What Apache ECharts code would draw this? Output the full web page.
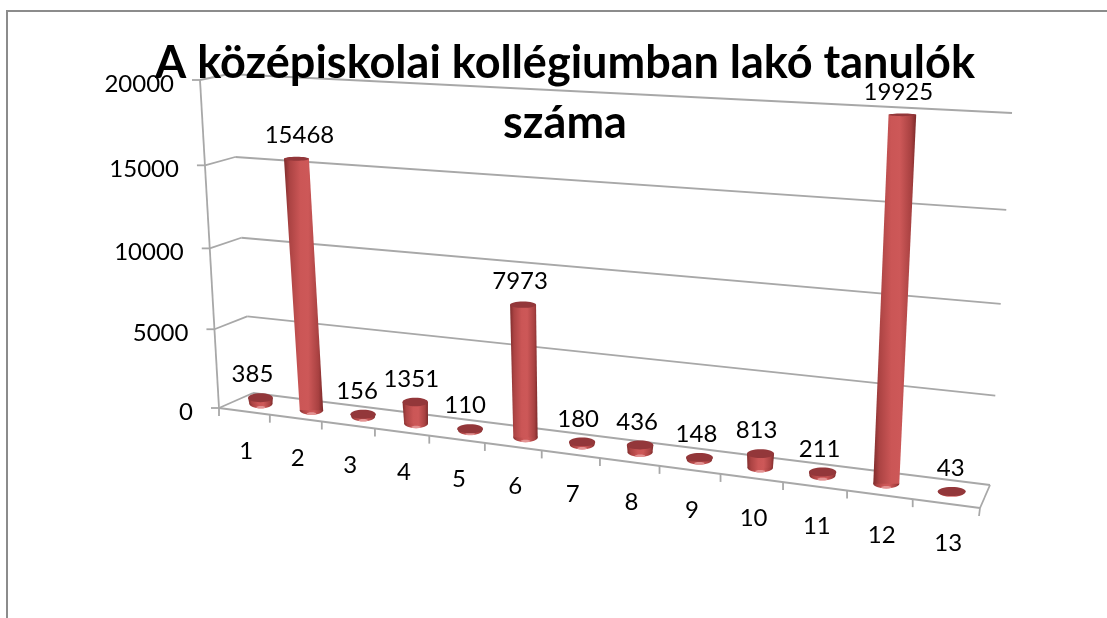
<!DOCTYPE html>
<html>
<head>
<meta charset="utf-8">
<style>html,body{margin:0;padding:0;background:#fff}#c{width:1107px;height:618px}</style>
<script src="https://cdn.jsdelivr.net/npm/echarts@6/dist/echarts.min.js"></script>
</head>
<body>
<div id="c"></div>
<script>
var categories = ['1','2','3','4','5','6','7','8','9','10','11','12','13'];
var values = [385,15468,156,1351,110,7973,180,436,148,813,211,19925,43];
var yTicks = [0,5000,10000,15000,20000];
var titleText = 'A középiskolai kollégiumban lakó tanulók\nszáma';
var labelNudgeX = [-8,3,-6,-4,-5,-3,-4,-3,-3,-4,-3,-4,-1];

/* Perspective frame of the tilted 3-D plot: the flat grid is re-projected onto it */
var FL=[219,408], FR=[980,508], BL=[253,393], BR=[990,485];
var TFL=[200,80], TBL=[229,74], TBR=[1012,113];
var XPERSP=1.164, YPERSP=1.055;
var FONT='Lato';
var GRID_COLOR='#a8a8a8';

function lerp(a,b,t){return [a[0]+(b[0]-a[0])*t,a[1]+(b[1]-a[1])*t];}
function fx(u){return u/(u+XPERSP*(1-u));}
function fy(h){return h/(h+YPERSP*(1-h));}
function norm(params,pt){
  var r=params.coordSys;
  return {u:(pt[0]-r.x)/r.width,h:(r.y+r.height-pt[1])/r.height};
}
/* depth: 0 = front edge, 1 = back wall */
function project(u,h,depth){
  var f=fx(u),hh=fy(h)*(1+0.03*(1-depth));
  var front=lerp(FL,FR,f),back=lerp(BL,BR,f),top=lerp(TBL,TBR,f);
  var base=lerp(front,back,depth);
  return [base[0]+(top[0]-back[0])*hh,base[1]+(top[1]-back[1])*hh];
}
function seg(a,b,w){
  return {type:'line',shape:{x1:a[0],y1:a[1],x2:b[0],y2:b[1]},
    style:{stroke:GRID_COLOR,lineWidth:w||1.8}};
}
function txt(s,x,y,align){
  return {type:'text',z2:5,style:{text:s,x:x,y:y,fill:'#000',fontFamily:FONT,fontSize:24,
    align:align||'center',verticalAlign:'middle'}};
}

function renderWall(params,api){
  var v=api.value(1),n=norm(params,api.coord([0,v]));
  var hh=fy(n.h);
  var frontLeft=lerp(FL,TFL,hh),backLeft=project(0,n.h,1),backRight=project(1,n.h,1);
  var ch=[
    seg(frontLeft,backLeft),
    seg(backLeft,backRight),
    seg([frontLeft[0]-8,frontLeft[1]],frontLeft),
    txt(String(v),frontLeft[0]-26,frontLeft[1]+4,'right')
  ];
  if(v===yTicks[0]){
    ch.push(seg(FL,FR),seg(BR,FR),seg(TFL,FL));
  }
  return {type:'group',children:ch};
}

function renderCat(params,api){
  var i=api.value(0),c=api.coord([i,0]),w=api.size([1,0])[0];
  var n=norm(params,c),du=w/params.coordSys.width;
  var left=project(n.u-du/2,0,0),right=project(n.u+du/2,0,0),mid=project(n.u,0,0);
  var ch=[seg(left,[left[0],left[1]+8]),txt(categories[i],mid[0]+2,mid[1]+40)];
  if(i===categories.length-1) ch.push(seg(right,[right[0]-1,right[1]+8]));
  return {type:'group',children:ch};
}

function renderBar(params,api){
  var i=api.value(0),v=api.value(1);
  var n=norm(params,api.coord([i,v]));
  var f=fx(n.u);
  var b=project(n.u,0,0.5),t=project(n.u,n.h,0.5);
  var w0=(23+3.5*f)/2,w1=w0+0.8;
  var ryB=4.5,ryT=4.5-3.2*n.h;
  var grad={type:'linear',x:0,y:0,x2:1,y2:0,colorStops:[
    {offset:0,color:'#7f2c2c'},{offset:0.14,color:'#ab4343'},{offset:0.42,color:'#cb5656'},
    {offset:0.62,color:'#cd5858'},{offset:0.88,color:'#a84141'},{offset:1,color:'#7c2a2a'}]};
  return {type:'group',children:[
    {type:'ellipse',shape:{cx:b[0],cy:b[1],rx:w0,ry:ryB},style:{fill:grad}},
    {type:'polygon',shape:{points:[[b[0]-w0,b[1]],[b[0]+w0,b[1]],[t[0]+w1,t[1]],[t[0]-w1,t[1]]]},style:{fill:grad}},
    {type:'ellipse',shape:{cx:b[0],cy:b[1]+ryB-1,rx:w0*0.4,ry:1.3},style:{fill:'#e39393'}},
    {type:'ellipse',shape:{cx:t[0],cy:t[1],rx:w1,ry:ryT},style:{fill:'#93373a'}},
    txt(String(v),t[0]+labelNudgeX[i],t[1]-23)
  ]};
}

var chart=echarts.init(document.getElementById('c'),null,{renderer:'canvas'});
chart.setOption({
  animation:false,
  backgroundColor:'#ffffff',
  title:{text:titleText,left:560,top:28,textAlign:'center',
    textStyle:{fontFamily:FONT,fontWeight:'bold',fontSize:45,lineHeight:60,color:'#000'}},
  grid:{left:219,top:80,width:761,height:328},
  xAxis:{type:'category',data:categories,show:false},
  yAxis:{type:'value',min:0,max:20000,interval:5000,show:false},
  graphic:[
    {type:'polyline',silent:true,shape:{points:[[7,618],[7,11],[1107,11]]},
     style:{stroke:'#8c8c8c',lineWidth:2,fill:null}}
  ],
  series:[
    {type:'custom',name:'wall',coordinateSystem:'cartesian2d',clip:false,z:2,silent:true,
     renderItem:renderWall,data:yTicks.map(function(v){return [0,v];})},
    {type:'custom',name:'categories',coordinateSystem:'cartesian2d',clip:false,z:2,silent:true,
     renderItem:renderCat,data:categories.map(function(c,i){return [i,0];})},
    {type:'custom',name:'A középiskolai kollégiumban lakó tanulók száma',coordinateSystem:'cartesian2d',clip:false,z:3,silent:true,
     renderItem:renderBar,data:values.map(function(v,i){return [i,v];})}
  ]
});
</script>
</body>
</html>
